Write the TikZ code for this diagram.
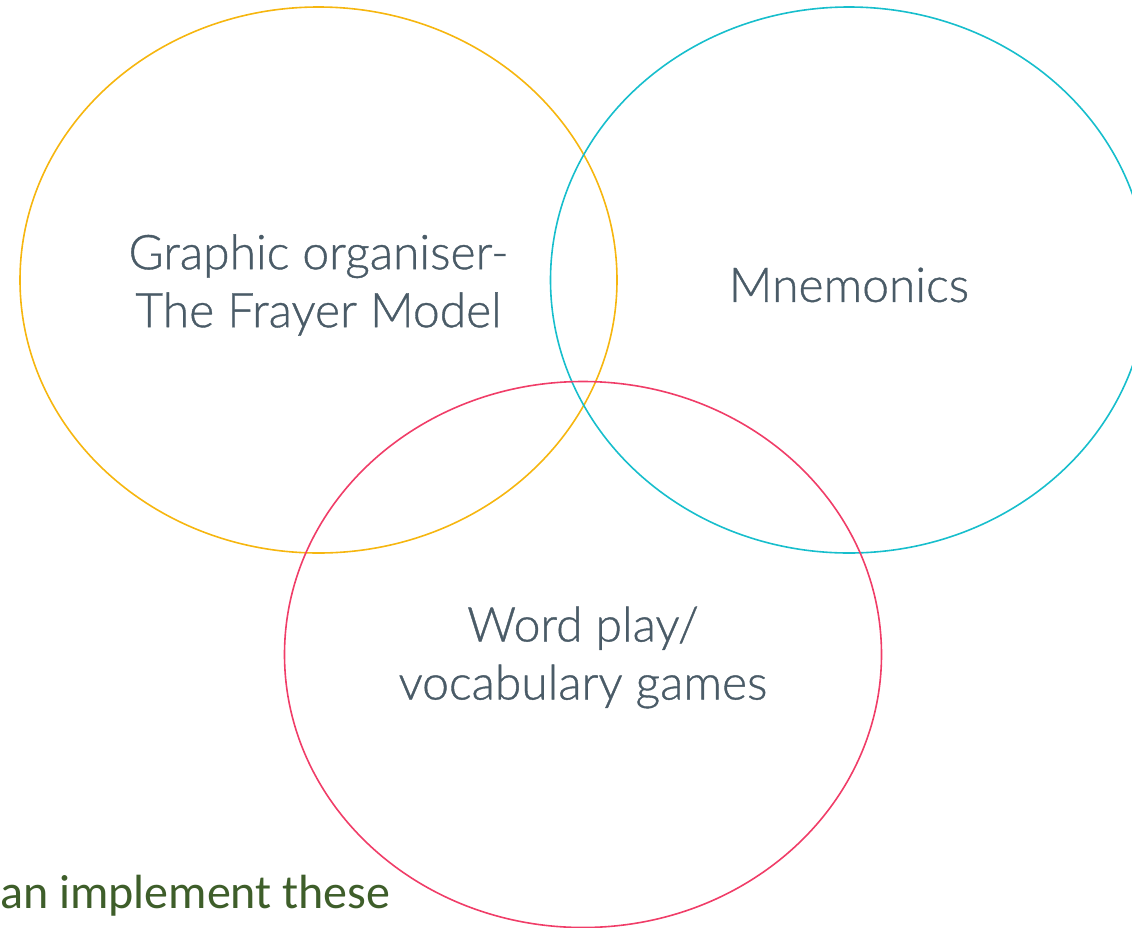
\documentclass[tikz,border=0pt]{standalone}
\usepackage{fontspec}
\setmainfont{Lato}[UprightFont=* Light, UprightFeatures={FakeBold=0.8}]
\newfontfamily\notefont{Carlito}
\usepackage{tikz}
\usetikzlibrary{shapes.geometric}

\definecolor{setgold}{HTML}{F6B60F}
\definecolor{setcyan}{HTML}{17BECC}
\definecolor{setred}{HTML}{F03D68}
\definecolor{settext}{HTML}{4A5B67}
\definecolor{notegreen}{HTML}{3E5E2A}

\tikzset{
  setring/.style={ellipse, draw=#1, line width=1.6pt, minimum width=597pt, minimum height=546pt,
    inner sep=0pt},
  setlabel/.style={align=center, text=settext, inner sep=0pt, font=\fontsize{48}{58}\selectfont},
}

\begin{document}
\begin{tikzpicture}
  \useasboundingbox (0pt,0pt) rectangle (1132pt,-927pt);
  \draw (318.5pt, -280.0pt)node[setring=setgold](organiser){};
  \draw (849.0pt, -280.0pt)node[setring=setcyan](mnemonics){};
  \draw (583.0pt, -654.5pt)node[setring=setred](wordplay){};
  \node[setlabel](organiser text) at ([yshift=-5pt]organiser.center){Graphic organiser-\\The Frayer Model};
  \node[setlabel](mnemonics text) at ([yshift=-5pt]mnemonics.center){Mnemonics};
  \node[setlabel](wordplay text) at ([yshift=-3pt]wordplay.center){Word play/\\vocabulary games};
  \node[anchor=base west, inner sep=0pt, text=notegreen, font=\notefont\fontsize{48}{56}\selectfont](note)
    at (0pt, -908pt){an implement these};
\end{tikzpicture}
\end{document}
